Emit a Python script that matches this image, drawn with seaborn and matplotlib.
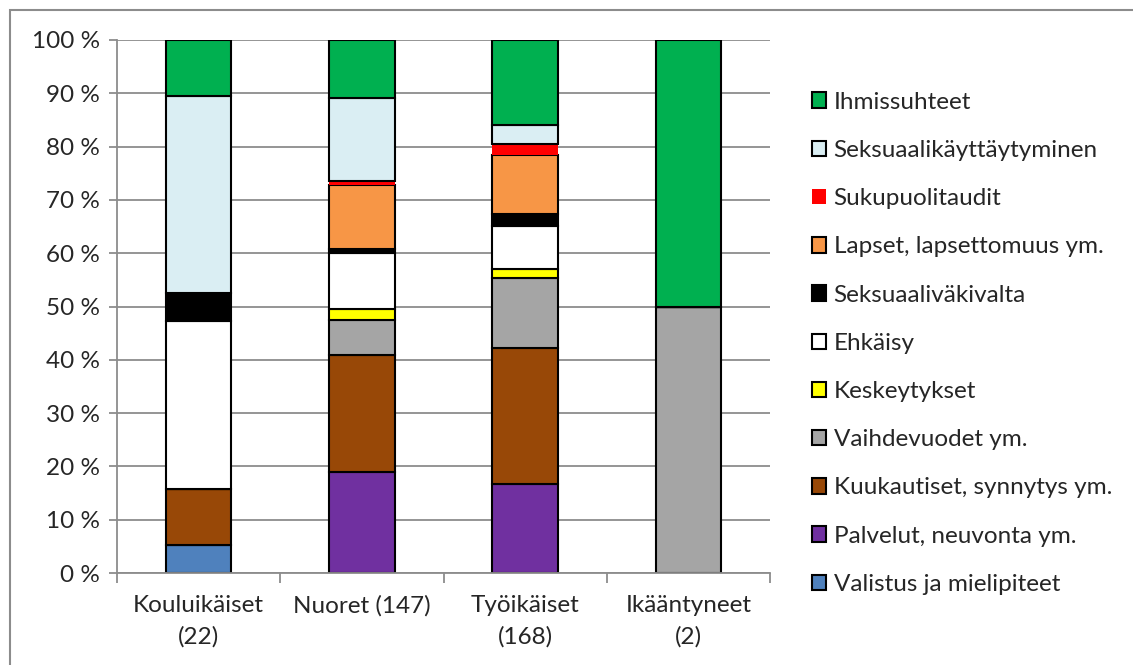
import numpy as np
import pandas as pd
import seaborn as sns
import matplotlib.pyplot as plt
from matplotlib.patches import Rectangle, Patch
from matplotlib.ticker import FixedLocator

# categories on the x axis
groups = ["Kouluikäiset\n(22)", "Nuoret (147)", "Työikäiset\n(168)", "Ikääntyneet\n(2)"]

# stacked topics, bottom to top (percent of each group)
valistus = [5.3, 0.0, 0.0, 0.0]
palvelut = [0.0, 19.0, 16.7, 0.0]
kuukautiset = [10.5, 21.9, 25.5, 0.0]
vaihdevuodet = [0.0, 6.6, 13.1, 50.0]
keskeytykset = [0.0, 2.0, 1.7, 0.0]
ehkaisy = [31.5, 10.5, 8.1, 0.0]
vakivalta = [5.3, 0.8, 2.3, 0.0]
lapset = [0.0, 12.0, 11.0, 0.0]
sukupuolitaudit = [0.0, 0.7, 2.1, 0.0]
kayttaytyminen = [36.9, 15.6, 3.5, 0.0]
ihmissuhteet = [10.5, 10.9, 16.0, 50.0]

series = [
    ("Valistus ja mielipiteet", valistus, "#4F81BD"),
    ("Palvelut, neuvonta ym.", palvelut, "#7030A0"),
    ("Kuukautiset, synnytys ym.", kuukautiset, "#984807"),
    ("Vaihdevuodet ym.", vaihdevuodet, "#A5A5A5"),
    ("Keskeytykset", keskeytykset, "#FFFF00"),
    ("Ehkäisy", ehkaisy, "#FFFFFF"),
    ("Seksuaaliväkivalta", vakivalta, "#000000"),
    ("Lapset, lapsettomuus ym.", lapset, "#F79646"),
    ("Sukupuolitaudit", sukupuolitaudit, "#FF0000"),
    ("Seksuaalikäyttäytyminen", kayttaytyminen, "#DAEEF3"),
    ("Ihmissuhteet", ihmissuhteet, "#00B050"),
]

sns.set_theme(style="white")
plt.rcParams['font.family'] = ['Lato', 'DejaVu Sans']
fs = 17.5

fig = plt.figure(figsize=(11.33, 6.65), dpi=100)
ax = fig.add_axes([117 / 1133, 1 - 573 / 665, 653 / 1133, 533 / 665])
ax.set_axisbelow(True)

grid_col = "#8C8C8C"
bottom = np.zeros(len(groups))
handles = []
for name, vals, col in series:
    vals = np.array(vals)
    edge = "none" if col == "#FF0000" else "black"
    sns.barplot(ax=ax, x=groups, y=vals, bottom=bottom, color=col,
                width=0.4, edgecolor=edge, linewidth=1.5, saturation=1)
    bottom = bottom + vals
    handles.append(Patch(facecolor=col, edgecolor=edge, linewidth=1.5, label=name))

ax.set_ylim(0, 100)
ax.set_xlim(-0.5, len(groups) - 0.5)
ax.set_yticks(np.arange(0, 101, 10))
ax.set_yticklabels([f"{v} %" for v in range(0, 101, 10)], fontsize=fs)
ax.yaxis.grid(True, color=grid_col, linewidth=1.3)
ax.tick_params(axis="y", length=6, width=1.3, color=grid_col, pad=6, left=True)
ax.set_xticks(range(len(groups)))
ax.set_xticklabels(groups, fontsize=fs, linespacing=1.55)
ax.tick_params(axis="x", which="major", length=0, pad=16)
ax.xaxis.set_minor_locator(FixedLocator(np.arange(-0.5, len(groups), 1.0)))
ax.tick_params(axis="x", which="minor", length=7, width=1.3, color=grid_col, bottom=True)
ax.set_xlabel("")
ax.set_ylabel("")

for s in ["top", "right"]:
    ax.spines[s].set_visible(False)
for s in ["left", "bottom"]:
    ax.spines[s].set_color(grid_col)
    ax.spines[s].set_linewidth(1.3)

leg = ax.legend(handles=handles[::-1], loc="upper left",
                bbox_to_anchor=(802 / 1133, 1 - 82 / 665), bbox_transform=fig.transFigure,
                frameon=False, fontsize=fs, handlelength=0.6, handleheight=0.6,
                handletextpad=0.3, labelspacing=1.12, borderaxespad=0)

fig.patches.append(Rectangle((10 / 1133, -0.1), 1.2, 1.1 - 10 / 665,
                             transform=fig.transFigure, fill=False,
                             edgecolor="#8C8C8C", linewidth=1.5))

fig.savefig("out.png", dpi=100)
